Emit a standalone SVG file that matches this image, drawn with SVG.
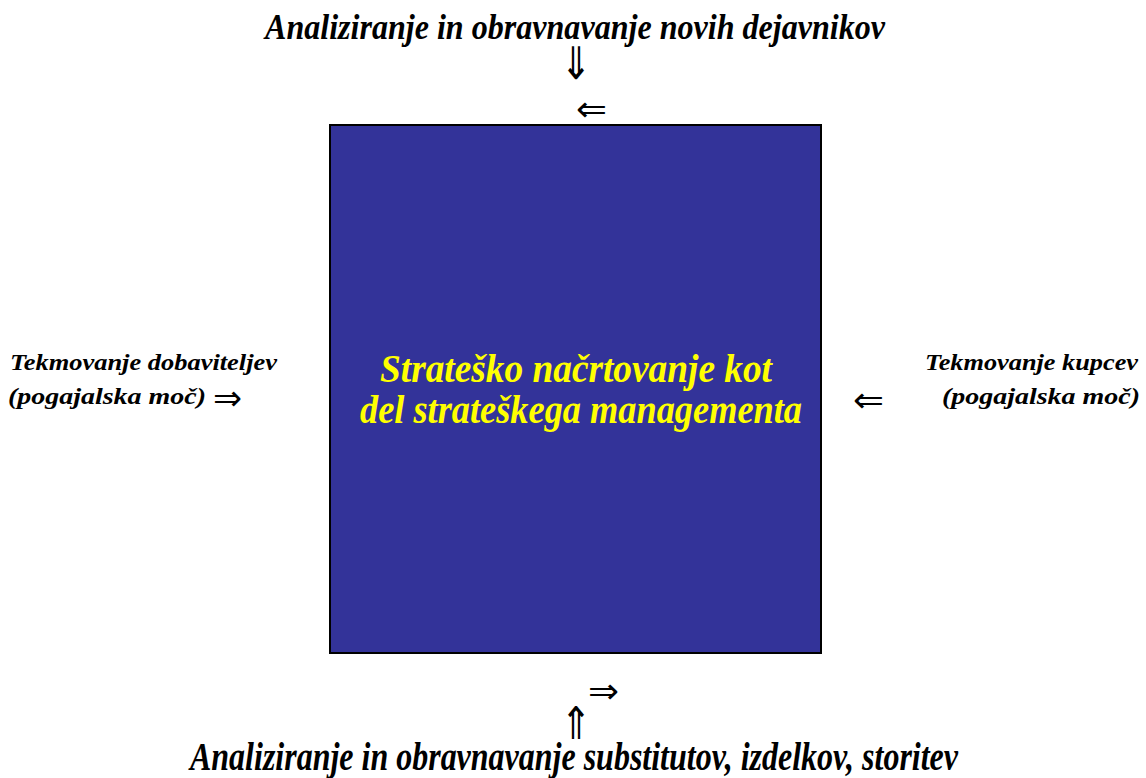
<svg xmlns="http://www.w3.org/2000/svg" width="1146" height="778" viewBox="0 0 1146 778">
<style>
.t{font-family:"Liberation Serif","Times New Roman",serif;font-weight:bold;font-style:italic;fill:#000}
.c{font-family:"Liberation Serif","Times New Roman",serif;font-weight:bold;font-style:italic;fill:#FFFF00;font-size:40px}
.a{font-family:"DejaVu Sans",sans-serif;fill:#000;font-size:35px}
.v{font-family:"DejaVu Sans",sans-serif;fill:#000;font-size:41px;text-anchor:middle}
</style>
<rect width="1146" height="778" fill="#fff"/>
<g id="top">
<text class="t" x="265" y="39" font-size="36" textLength="620" lengthAdjust="spacingAndGlyphs">Analiziranje in obravnavanje novih dejavnikov</text>
</g>
<g id="bottom">
<text class="t" x="190" y="770" font-size="39" textLength="768" lengthAdjust="spacingAndGlyphs">Analiziranje in obravnavanje substitutov, izdelkov, storitev</text>
</g>
<g id="left">
<text class="t" x="10" y="370" font-size="23" textLength="267" lengthAdjust="spacingAndGlyphs">Tekmovanje dobaviteljev</text>
<text class="t" x="8" y="404" font-size="23" textLength="198" lengthAdjust="spacingAndGlyphs">(pogajalska moč)</text>
</g>
<g id="right">
<text class="t" x="925" y="370" font-size="23" textLength="213" lengthAdjust="spacingAndGlyphs">Tekmovanje kupcev</text>
<text class="t" x="942" y="404" font-size="23" textLength="198" lengthAdjust="spacingAndGlyphs">(pogajalska moč)</text>
</g>
<g id="center">
<rect x="330" y="125" width="491" height="528" fill="#333399" stroke="#000" stroke-width="2"/>
<text class="c" x="380" y="382" textLength="392" lengthAdjust="spacingAndGlyphs">Strateško načrtovanje kot</text>
<text class="c" x="360" y="423" textLength="442" lengthAdjust="spacingAndGlyphs">del strateškega managementa</text>
</g>
<g id="connectors">
<text class="v" transform="translate(576,79) scale(0.9,1.1)">⇓</text>
<text class="a" x="576" y="121" textLength="31" lengthAdjust="spacingAndGlyphs">⇐</text>
<text class="a" x="588" y="703" textLength="31" lengthAdjust="spacingAndGlyphs">⇒</text>
<text class="v" transform="translate(576,739) scale(0.9,1.1)">⇑</text>
<text class="a" x="853" y="412" textLength="31" lengthAdjust="spacingAndGlyphs">⇐</text>
<text class="a" x="213" y="410" textLength="29" lengthAdjust="spacingAndGlyphs">⇒</text>
</g>
</svg>
